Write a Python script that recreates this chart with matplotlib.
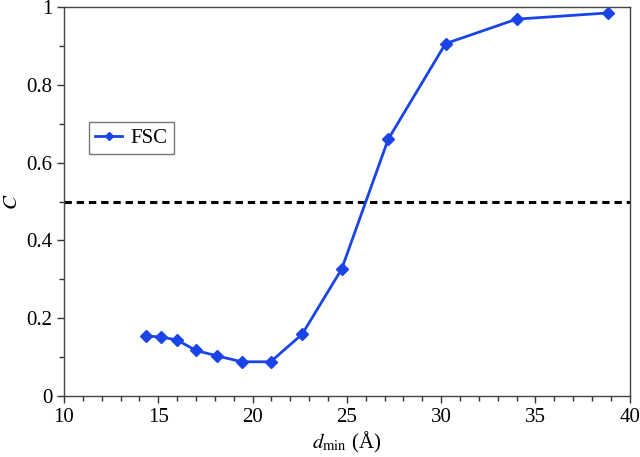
import numpy as np
import matplotlib
matplotlib.use("Agg")
import matplotlib.pyplot as plt
from matplotlib.ticker import MultipleLocator

plt.rcParams['font.family'] = ['Liberation Serif', 'DejaVu Serif']
plt.rcParams['mathtext.fontset'] = 'stix'

# resolution (Angstrom) and correlation
d_min = [14.33, 15.13, 15.99, 17.0, 18.13, 19.42, 20.96, 22.63, 24.72, 27.19, 30.23, 34.0, 38.87]
fsc = [0.154, 0.152, 0.144, 0.117, 0.103, 0.088, 0.088, 0.159, 0.326, 0.660, 0.906, 0.969, 0.985]
threshold = 0.5

fig = plt.figure(figsize=(6.4, 4.57), dpi=100)
ax = fig.add_axes([0.1, 0.1335, 0.884, 0.851])

ax.axhline(threshold, color='black', lw=2.2, dashes=(2.4, 1.6))
ax.plot(d_min, fsc, color='#1a44e8', lw=2, marker='D', ms=6, label='FSC')

ax.set_xlim(10, 40)
ax.set_ylim(0, 1)
ax.xaxis.set_major_locator(MultipleLocator(5))
ax.xaxis.set_minor_locator(MultipleLocator(1))
ax.yaxis.set_major_locator(MultipleLocator(0.2))
ax.yaxis.set_minor_locator(MultipleLocator(0.1))
ax.set_yticks([0, 0.2, 0.4, 0.6, 0.8, 1.0])
ax.set_yticklabels(['0', '0.2', '0.4', '0.6', '0.8', '1'])
ax.tick_params(which='both', direction='out', top=False, right=False, colors='#333333', labelcolor='black', labelsize=15)
ax.tick_params(which='major', length=5, width=1)
ax.tick_params(which='minor', length=3.5, width=1)
for s in ax.spines.values():
    s.set_color('#444444')
    s.set_linewidth(1)

ax.set_xlabel(r'$d_{\rm min}$ (Å)', fontsize=15, labelpad=2)
ax.set_ylabel(r'$C$', fontsize=15, labelpad=3)

leg = ax.legend(loc='upper left', bbox_to_anchor=(0.044, 0.704), borderaxespad=0,
                fancybox=False, edgecolor='#555555', fontsize=15, handlelength=1.3,
                borderpad=0.3, handletextpad=0.4, markerscale=0.7)
leg.get_frame().set_linewidth(1)

fig.savefig('out.png', dpi=100)
